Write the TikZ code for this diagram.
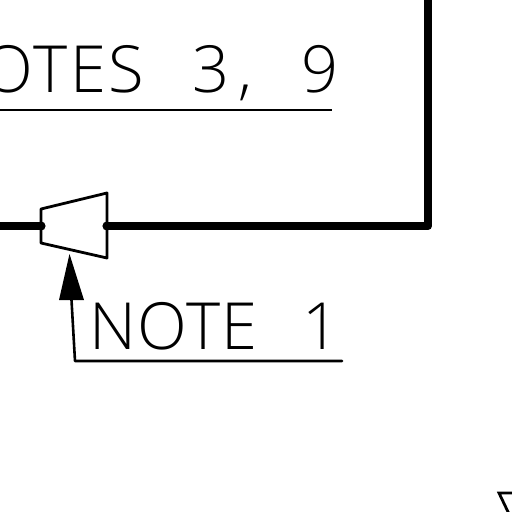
\documentclass[tikz,border=0pt]{standalone}
\usepackage{fontspec}
\setmainfont{Open Sans}[UprightFont=* Light]
\tikzset{
  cadtext/.style={inner sep=0pt,outer sep=0pt,font=\fontsize{65}{65}\selectfont,anchor=base west},
  pipe/.style={line width=8pt,line join=round},
  thin/.style={line width=2.8pt,line join=round,line cap=round},
  leader/.style={line width=2.6pt,line cap=round,line join=round}
}
\begin{document}
\begin{tikzpicture}[x=1pt,y=-1pt]
\useasboundingbox (0,0) rectangle (512,512);
\clip (0,0) rectangle (512,512);
% valve
\coordinate (vtl) at (41,209);
\coordinate (vtr) at (107,193);
\coordinate (vbr) at (107,258);
\coordinate (vbl) at (41,243);
\coordinate (vl) at (41,226);
\coordinate (vr) at (107,226);
\coordinate (pl) at (0,226);
\coordinate (pc) at (428,226);
\coordinate (pt) at (428,0);
\draw[thin] (vtl) -- (vtr) -- (vbr) -- (vbl) -- cycle;
\draw[pipe] (pl) -- (vl);
\draw[pipe] (vr) -- (pc) -- (pt);
\fill (vl) circle (4.6pt);
\fill (vr) circle (4.6pt);
% text 1
\node[cadtext,anchor=base east] (notes) at (144,92) {\addfontfeature{LetterSpace=4}NOTES};
\node[cadtext] (three) at (192,92) {\addfontfeature{LetterSpace=15}3,};
\node[cadtext] (nine) at (301,92) {9};
\coordinate (u1a) at (0,110);
\coordinate (u1b) at (332,110);
\draw[line width=1.6pt] (u1a) -- (u1b);
% note 1
\node[cadtext] (note) at (89,349) {\addfontfeature{LetterSpace=2}NOTE};
\node[cadtext] (one) at (302,349) {1};
\coordinate (tip) at (69.5,254);
\coordinate (al) at (59,300);
\coordinate (ar) at (84,300);
\coordinate (bend) at (75,361);
\coordinate (uend) at (342,361);
\fill (tip) -- (ar) -- (al) -- cycle;
\draw[leader] (71.5,300) -- (bend) -- (uend);
% corner of a further symbol
\coordinate (ta) at (499,493);
\coordinate (tb) at (512,493);
\coordinate (tc) at (510,516);
\draw[line width=2.8pt] (tb) -- (ta) -- (tc);
\end{tikzpicture}
\end{document}
